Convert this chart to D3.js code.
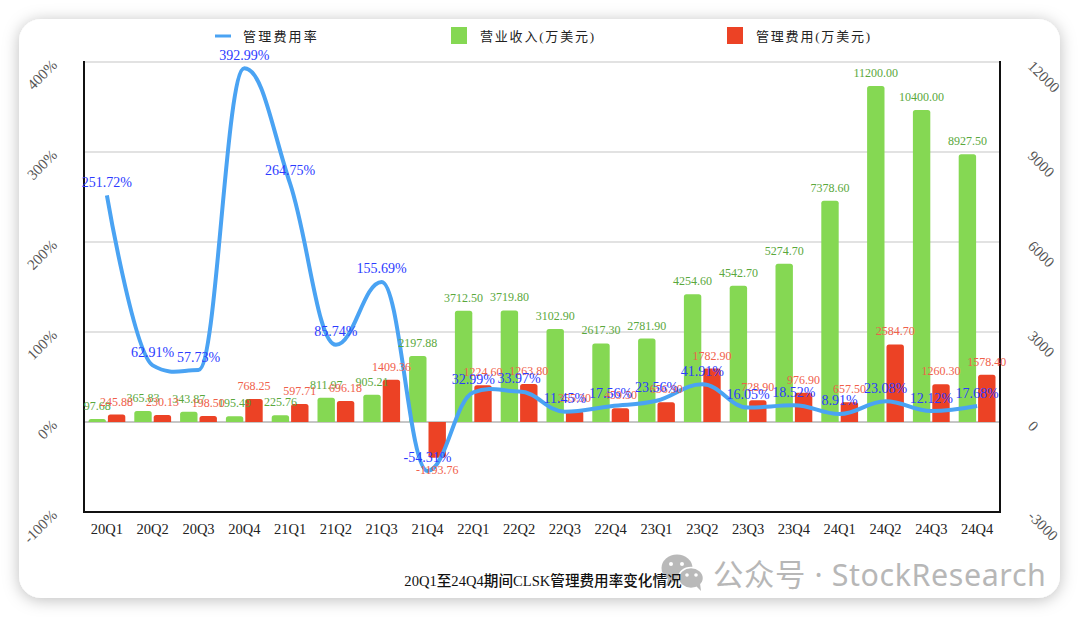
<!DOCTYPE html>
<html><head><meta charset="utf-8">
<script src="https://cdn.jsdelivr.net/npm/d3@7/dist/d3.min.js"></script>
<style>html,body{margin:0;padding:0;background:#fff}svg{display:block}</style>
</head><body><svg id="c" width="1080" height="617"></svg>
<script>
const categories=["20Q1","20Q2","20Q3","20Q4","21Q1","21Q2","21Q3","21Q4","22Q1","22Q2","22Q3","22Q4","23Q1","23Q2","23Q3","23Q4","24Q1","24Q2","24Q3","24Q4"];
const revenue=[97.68,365.83,343.87,195.49,225.76,811.97,905.21,2197.88,3712.50,3719.80,3102.90,2617.30,2781.90,4254.60,4542.70,5274.70,7378.60,11200.00,10400.00,8927.50];
const expense=[245.88,230.13,198.50,768.25,597.71,696.18,1409.36,-1193.76,1224.60,1263.80,355.30,459.50,656.90,1782.90,728.90,976.90,657.50,2584.70,1260.30,1578.40];
const rate=[251.72,62.91,57.73,392.99,264.75,85.74,155.69,-54.31,32.99,33.97,11.45,17.56,23.56,41.91,16.05,18.52,8.91,23.08,12.12,17.68];
const leftTicks=[-100,0,100,200,300,400];
const rightTicks=[-3000,0,3000,6000,9000,12000];
const seriesNames=["管理费用率","营业收入(万美元)","管理费用(万美元)"];
const chartTitle="20Q1至24Q4期间CLSK管理费用率变化情况";
const watermark="公众号 · StockResearch";

const GREEN="#85d853",RED="#ec4225",BLUE="#4aa3f3";
const SERIF='"Liberation Serif","Noto Sans CJK SC",serif';
const svg=d3.select("#c");
const L=84,R=1000,T=62,B=512;
const x=d3.scaleBand().domain(categories).range([L,R]);
const yL=d3.scaleLinear().domain([-100,400]).range([B,T]);
const yR=d3.scaleLinear().domain([-3000,12000]).range([B,T]);

const defs=svg.append("defs");
const f=defs.append("filter").attr("id","sh").attr("x","-5%").attr("y","-8%").attr("width","110%").attr("height","116%");
f.append("feDropShadow").attr("dx",0).attr("dy",2).attr("stdDeviation",8).attr("flood-color","#000").attr("flood-opacity",0.26);
svg.append("rect").attr("x",19).attr("y",19).attr("width",1041).attr("height",579).attr("rx",22).attr("fill","#fff").attr("filter","url(#sh)");

// grid
svg.append("g").selectAll("line").data(leftTicks.filter(d=>d>-100)).join("line")
 .attr("x1",L).attr("x2",R).attr("y1",d=>yL(d)).attr("y2",d=>yL(d))
 .attr("stroke","#c6c6c6").attr("stroke-width",d=>d===0?2:1.2);

// bars
const bw=17.4,gap=2;
const rounded=(x0,w,yv,y0)=>{
  const r=Math.min(2.5,Math.abs(yv-y0));const s=yv<y0?1:-1;
  return `M${x0},${y0}V${yv+s*r}Q${x0},${yv} ${x0+r},${yv}H${x0+w-r}Q${x0+w},${yv} ${x0+w},${yv+s*r}V${y0}Z`;
};
const cx=d=>x(d)+x.bandwidth()/2;
svg.append("g").selectAll("path").data(categories).join("path")
 .attr("d",(d,i)=>rounded(cx(d)-gap/2-bw,bw,yR(revenue[i]),yR(0))).attr("fill",GREEN);
svg.append("g").selectAll("path").data(categories).join("path")
 .attr("d",(d,i)=>rounded(cx(d)+gap/2,bw,yR(expense[i]),yR(0))).attr("fill",RED);

// axes lines
const axisG=svg.append("g").attr("stroke","#111").attr("stroke-width",2);
axisG.append("line").attr("x1",L).attr("x2",L).attr("y1",T-1).attr("y2",B+1);
axisG.append("line").attr("x1",R).attr("x2",R).attr("y1",T-1).attr("y2",B+1);
axisG.append("line").attr("x1",L).attr("x2",R).attr("y1",B).attr("y2",B);

// Spline: flat at local extrema, small overshoot permitted elsewhere
function splineCurve(context,k,margin){
  let pts=[];
  return {
    areaStart(){},areaEnd(){},
    lineStart(){pts=[];},
    point(a,b){pts.push([+a,+b]);},
    lineEnd(){
      const n=pts.length;
      const ctrl=pts.map((p,i)=>{
        const a=pts[i-1],b=pts[i+1];
        if(!a||!b) return {l:p.slice(),r:p.slice()};
        const lx=p[0]-(p[0]-a[0])*k,rx=p[0]+(b[0]-p[0])*k;
        if((p[1]-a[1])*(b[1]-p[1])<=0) return {l:[lx,p[1]],r:[rx,p[1]]};
        let ly=p[1]-(p[1]-a[1])*k,ry=p[1]+(b[1]-p[1])*k;
        const c=(ry-ly)*(rx-p[0])/(rx-lx)+p[1]-ry;
        ly+=c;ry+=c;
        const up=b[1]<p[1];
        const lim=b[1]+(up?-margin:margin);
        if(up?ry<lim:ry>lim){ry=lim;ly=2*p[1]-ry;}
        const lim2=a[1]+(up?margin:-margin);
        if(up?ly>lim2:ly<lim2){ly=lim2;ry=2*p[1]-ly;}
        return {l:[lx,ly],r:[rx,ry]};
      });
      context.moveTo(pts[0][0],pts[0][1]);
      for(let i=1;i<n;i++){
        const a=ctrl[i-1].r,b=ctrl[i].l,p=pts[i];
        context.bezierCurveTo(a[0],a[1],b[0],b[1],p[0],p[1]);
      }
    }
  };
}
const line=d3.line().x((d,i)=>cx(categories[i])).y(d=>yL(d)).curve(c=>splineCurve(c,0.4,6));
svg.append("path").attr("d",line(rate)).attr("fill","none").attr("stroke",BLUE).attr("stroke-width",4).attr("stroke-linejoin","round");

// watermark
const wm=svg.append("g").attr("fill","#b9b9b9");
wm.append("ellipse").attr("cx",677).attr("cy",568).attr("rx",15.5).attr("ry",13.5);
wm.append("path").attr("d","M668,579l-2,7l8,-5z");
wm.append("ellipse").attr("cx",691).attr("cy",578).attr("rx",12.5).attr("ry",10.5).attr("stroke","#fff").attr("stroke-width",1.5);
wm.append("path").attr("d","M696,586l5,5l-1,-8z");
wm.append("g").attr("fill","#fff").selectAll("circle").data([[671,564,2],[682,564,2],[687,575,1.8],[696,575,1.8]]).join("circle")
 .attr("cx",d=>d[0]).attr("cy",d=>d[1]).attr("r",d=>d[2]);
svg.append("text").attr("x",713).attr("y",574).attr("dominant-baseline","central").attr("font-family",'"Noto Sans","Noto Sans CJK SC",sans-serif')
 .attr("font-size",30.4).attr("letter-spacing",.6).attr("fill","#b7b7b7").text(watermark);

// labels
const txt=svg.append("g").attr("font-family",SERIF).attr("text-anchor","middle").attr("dominant-baseline","central");
txt.append("g").attr("font-size",12).attr("fill","#5aa83c").selectAll("text").data(revenue).join("text")
 .attr("x",(d,i)=>cx(categories[i])-gap/2-bw/2).attr("y",d=>yR(d)-13).text(d=>d.toFixed(2));
txt.append("g").attr("font-size",12).attr("fill","#f0604a").selectAll("text").data(expense).join("text")
 .attr("x",(d,i)=>cx(categories[i])+gap/2+bw/2).attr("y",d=>d<0?yR(d)+12:yR(d)-13).text(d=>d.toFixed(2));
txt.append("g").attr("font-size",14).attr("fill","#2b3bff").selectAll("text").data(rate).join("text")
 .attr("x",(d,i)=>cx(categories[i])).attr("y",d=>yL(d)-13).text(d=>d.toFixed(2)+"%");

// tick labels
svg.append("g").attr("font-family",SERIF).attr("font-size",14.5).attr("fill","#222").attr("text-anchor","middle").attr("dominant-baseline","central")
 .selectAll("text").data(categories).join("text").attr("x",cx).attr("y",529).text(d=>d);
svg.append("g").attr("font-family",SERIF).attr("font-size",15).attr("fill","#555").attr("text-anchor","end")
 .selectAll("text").data(leftTicks).join("text").attr("transform",d=>`translate(58,${yL(d)+4}) rotate(-45)`).text(d=>d+"%");
svg.append("g").attr("font-family",SERIF).attr("font-size",15).attr("fill","#555").attr("text-anchor","start")
 .selectAll("text").data(rightTicks).join("text").attr("transform",d=>`translate(1027,${yR(d)+5}) rotate(45)`).text(d=>d);

// legend
const lg=svg.append("g").attr("font-family",SERIF).attr("font-size",13).attr("fill","#222").attr("dominant-baseline","central");
lg.append("line").attr("x1",215).attr("x2",231).attr("y1",36).attr("y2",36).attr("stroke",BLUE).attr("stroke-width",3);
lg.append("rect").attr("x",451).attr("y",27).attr("width",16).attr("height",17).attr("fill",GREEN);
lg.append("rect").attr("x",727).attr("y",27).attr("width",16).attr("height",17).attr("fill",RED);
lg.selectAll("text").data(seriesNames).join("text").attr("x",(d,i)=>[243,480,756][i]).attr("y",36)
 .attr("letter-spacing",(d,i)=>[2.2,1.8,1.8][i]).text(d=>d);

// title
svg.append("text").attr("x",543).attr("y",581).attr("text-anchor","middle").attr("dominant-baseline","central")
 .attr("font-family",SERIF).attr("font-size",14.6).attr("font-weight",500).attr("fill","#111").text(chartTitle);
</script></body></html>
